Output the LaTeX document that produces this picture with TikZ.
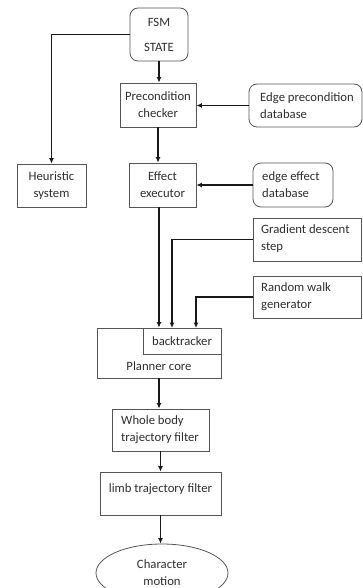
\documentclass[tikz,border=0pt]{standalone}
\usepackage{fontspec}
\setmainfont{Carlito}
\usetikzlibrary{shapes.geometric,arrows.meta}
\definecolor{txt}{HTML}{2E2E2E}
\definecolor{edgec}{HTML}{555555}
\begin{document}
\begin{tikzpicture}[x=1pt,y=-1pt,
  tfont/.style={font=\fontsize{12.7}{17}\selectfont},
  box/.style={draw=edgec,line width=0.8pt,inner sep=0pt,text=txt,tfont,align=center},
  rbox/.style={box,rounded corners=8pt},
  lbl/.style={inner sep=0pt,text=txt,tfont,align=left,anchor=west},
  ctext/.style={inner sep=0pt,text=txt,tfont,align=center},
  arr/.style={-{Latex[length=5.5pt,width=5pt]},line width=1.1pt,black!90}]
\useasboundingbox (0,0) rectangle (363,588);
\clip (0,0) rectangle (363,588);

\node[rbox,minimum width=58pt,minimum height=53pt] (fsm) at (159,34.5) {FSM\\[8pt]STATE};
\node[box,minimum width=76pt,minimum height=44pt] (pre) at (158,105) {Precondition\\checker};
\node[rbox,minimum width=113pt,minimum height=43pt] (epd) at (305.5,105.5) {};
\node[lbl] (epdt) at (260,105.5) {Edge precondition\\database};
\node[box,minimum width=69pt,minimum height=43pt] (heur) at (51.5,185.5) {Heuristic\\system};
\node[box,minimum width=67pt,minimum height=44pt] (eff) at (162.5,185) {Effect\\executor};
\node[rbox,minimum width=80pt,minimum height=44pt] (eed) at (293,185) {};
\node[lbl] (eedt) at (262,185) {edge effect\\database};
\node[box,minimum width=108pt,minimum height=43pt] (grad) at (307,239.5) {};
\node[lbl] (gradt) at (261,239) {Gradient descent\\step};
\node[box,minimum width=108pt,minimum height=42pt] (rw) at (307,297) {};
\node[lbl] (rwt) at (261,296.5) {Random walk\\generator};
\node[box,minimum width=124pt,minimum height=50pt] (plan) at (159,353) {};
\node[box,minimum width=78pt,minimum height=26pt] (bt) at (182,341) {backtracker};
\node[ctext] (plant) at (159,366) {Planner core};
\node[box,minimum width=97pt,minimum height=42pt] (wb) at (160.5,430) {};
\node[lbl] (wbt) at (121,430) {Whole body\\trajectory filter};
\node[box,minimum width=121pt,minimum height=43pt] (limb) at (160.5,493.5) {};
\node[ctext] (limbt) at (160.5,489) {limb trajectory filter};
\node[ellipse,box,minimum width=132pt,minimum height=58pt] (cm) at (162,573) {Character\\motion};

\coordinate (gin) at (172,328);
\coordinate (rin) at (196,328);

\draw[arr] (fsm.west) -| (heur.north);
\draw[arr] (fsm.south) -- (fsm.south |- pre.north);
\draw[arr] (epd.west) -- (epd.west -| pre.east);
\draw[arr] (pre.south) -- (pre.south |- eff.north);
\draw[arr] (eed.west) -- (eed.west -| eff.east);
\draw[arr] (eff.south -| plan.north) -- (plan.north);
\draw[arr] (grad.west) -| (gin);
\draw[arr] (rw.west) -| (rin);
\draw[arr] (plan.south) -- (plan.south |- wb.north);
\draw[arr] (wb.south) -- (limb.north);
\draw[arr] (limb.south) -- (limb.south |- cm.north);
\end{tikzpicture}
\end{document}
